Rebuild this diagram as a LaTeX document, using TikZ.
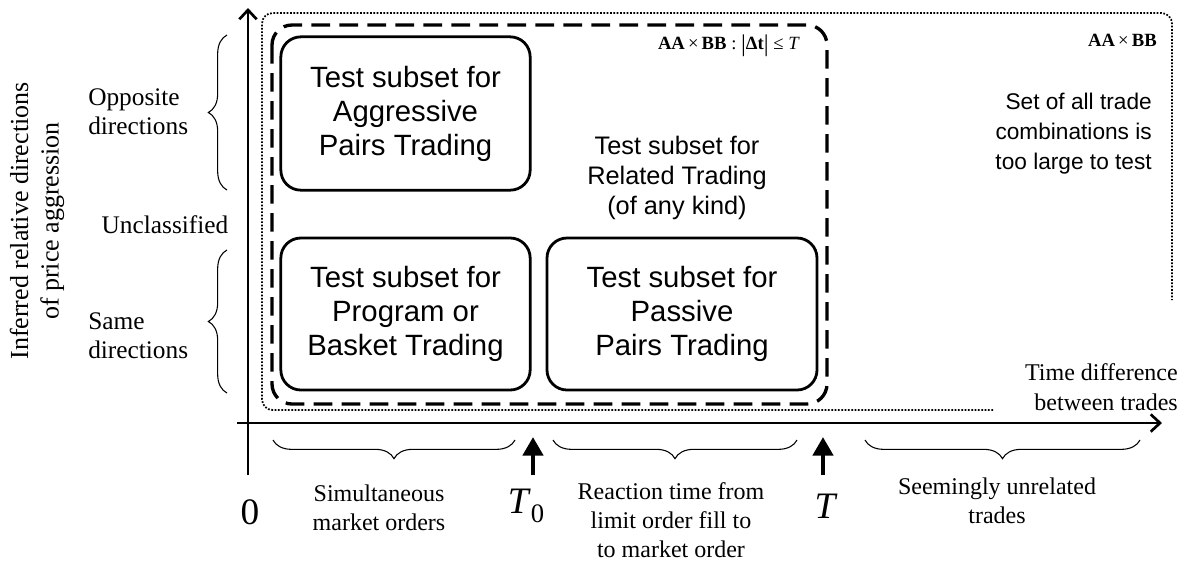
\documentclass[tikz,border=0pt]{standalone}
\usepackage{fontspec}
\setmainfont{Liberation Serif}
\newfontfamily\arialfont{Liberation Sans}
\usetikzlibrary{arrows.meta,decorations.pathreplacing}
\newcommand{\tallbar}{\raisebox{-1.5pt}{\fontsize{18}{18}\selectfont|}}
\begin{document}
\begin{tikzpicture}[x=0.75pt,y=-0.75pt,
  serif/.style={font=\fontsize{18}{22}\selectfont, align=center, inner sep=0pt},
  leftlbl/.style={font=\fontsize{19}{22}\selectfont, inner sep=0pt},
  boxtext/.style={font=\arialfont\fontsize{22}{25.5}\selectfont, align=center},
  testbox/.style={draw, line width=2.1pt, rounded corners=15pt, boxtext},
  axisline/.style={line width=2pt, -{Straight Barb[length=7pt,width=13pt,line width=2pt]}},
  related/.style={line width=2.5pt, dash pattern=on 14pt off 7pt, rounded corners=15pt},
  allset/.style={line width=1.3pt, dash pattern=on 1.3pt off 1.2pt, rounded corners=8pt},
  brace/.style={decorate, decoration={brace, amplitude=14pt}, line width=0.8pt},
  marker/.style={line width=3.4pt, -{Triangle[length=14pt,width=15pt]}},
  big/.style={font=\fontsize{28}{28}\selectfont, inner sep=0pt},
  setlabel/.style={font=\fontsize{14}{16}\selectfont, inner sep=0pt},
]
\useasboundingbox (0,0) rectangle (1186,562);

% sets
\draw[allset] (993,410) -- (262,410) -- (262,13) -- (1172,13) -- (1172,300);
\draw[related] (272,25) rectangle (827,404);

% test boxes
\node[testbox, minimum width=187pt, minimum height=115pt] (aggr) at (405.5,113.5) {Test subset for\\Aggressive\\Pairs Trading};
\node[testbox, minimum width=187pt, minimum height=114pt] (basket) at (405.5,314) {Test subset for\\Program or\\Basket Trading};
\node[testbox, minimum width=202.5pt, minimum height=114pt] (passive) at (682,314) {Test subset for\\Passive\\Pairs Trading};

\node[font=\arialfont\fontsize{19}{22.5}\selectfont, align=center] (rel) at (677,178) {Test subset for\\Related Trading\\(of any kind)};
\node[font=\arialfont\fontsize{17}{22.5}\selectfont, align=right, anchor=east, inner sep=0pt] (toolarge) at (1152,134) {Set of all trade\\combinations is\\too large to test};

\node[setlabel, anchor=east] (allsetlbl) at (1157,40) {\textbf{AA}\,×\,\textbf{BB}};
\node[setlabel, anchor=east] (rellbl) at (800,46) {\textbf{AA}\,×\,\textbf{BB} : \tallbar\textbf{Δt}\tallbar\ ≤ \textit{T}};

% axes
\draw[axisline] (248,475) -- (248,8);
\draw[axisline] (237,423) -- (1162,423);

% left labels
\node[leftlbl, font=\fontsize{19.5}{23}\selectfont, align=center, rotate=90] (ylab) at (37,221) {Inferred relative directions\\of price aggression};
\node[leftlbl, align=left, anchor=west] (opp) at (88,112) {Opposite\\directions};
\node[leftlbl] (uncl) at (165,225) {Unclassified};
\node[leftlbl, align=left, anchor=west] (same) at (88,336) {Same\\directions};
\draw[brace] (227,190) -- (227,35);
\draw[brace] (227,393) -- (227,250);

% bottom braces
\draw[brace] (515,440) -- (273,440);
\draw[brace] (797,440) -- (553,440);
\draw[brace] (1140,440) -- (865,440);

% markers
\draw[marker] (533,475) -- (533,437);
\draw[marker] (823,475) -- (823,437);

\node[big] (zero) at (250,512) {0};
\node[big] (tzero) at (526,506) {\textit{T}\raisebox{-7pt}{\fontsize{20}{20}\selectfont 0}};
\node[big] (tmark) at (826,506) {\textit{T}};

\node[serif] (simul) at (379,508) {Simultaneous\\market orders};
\node[serif] (react) at (671,520) {Reaction time from\\limit order fill to\\to market order};
\node[serif] (unrel) at (997,501) {Seemingly unrelated\\trades};
\node[serif, align=right, anchor=east] (tdiff) at (1178,387) {Time difference\\between trades};
\end{tikzpicture}
\end{document}
